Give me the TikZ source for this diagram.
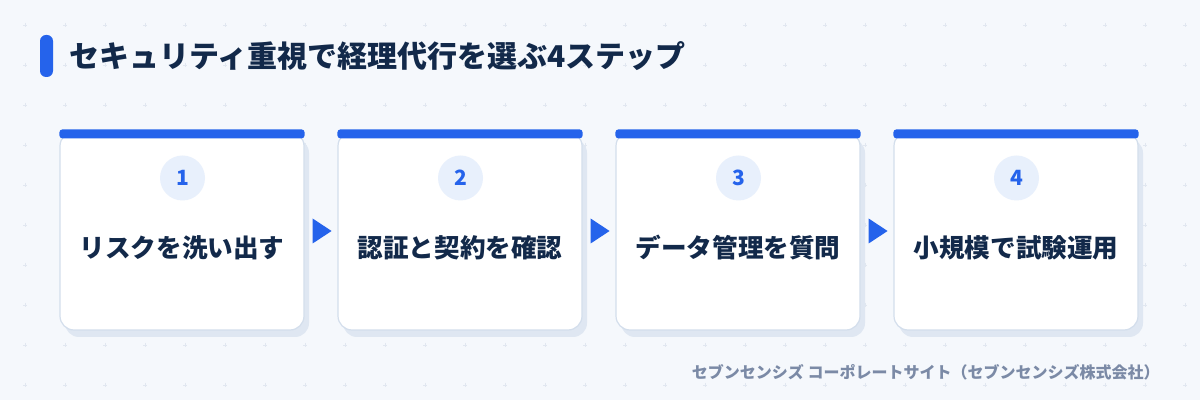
\documentclass[tikz,border=0pt]{standalone}
\usepackage{fontspec}
\setmainfont{Noto Sans CJK JP}
\usepackage{xcolor}
\usetikzlibrary{positioning,shadows}
\definecolor{bgc}{HTML}{F5F8FC}
\definecolor{dotc}{HTML}{E1E7F0}
\definecolor{accent}{HTML}{2563EB}
\definecolor{navy}{HTML}{12294A}
\definecolor{edgec}{HTML}{D3DEEC}
\definecolor{shadec}{HTML}{DFE7F2}
\definecolor{numbg}{HTML}{E8F0FC}
\definecolor{footc}{HTML}{7B8AA6}

\begin{document}
\begin{tikzpicture}[x=0.5pt, y=-0.5pt, font=\bfseries,
  card/.style={draw=edgec, line width=0.6pt, fill=white, rounded corners=7pt, minimum width=122pt, minimum height=99pt, inner sep=0pt,
    drop shadow={shadow xshift=2.5pt, shadow yshift=-3.5pt, fill=shadec, opacity=1}},
  topbar/.style={fill=accent, rounded corners=1.5pt},
  num/.style={circle, fill=numbg, minimum size=22.5pt, inner sep=0pt, text=accent, font=\bfseries\fontsize{10.5}{12}\selectfont},
  lab/.style={text=navy, font=\bfseries\fontsize{12.8}{15}\selectfont},
  tip/.style={fill=accent}]
	\fill[bgc] (0,0) rectangle (1200,400);
	\useasboundingbox (0,0) rectangle (1200,400);
	% background dots
	\foreach \gx in {0,...,29}
		\foreach \gy in {0,...,9}
			\draw[dotc, line width=0.45pt] (25+40*\gx-2,25+40*\gy) -- ++(4,0) (25+40*\gx,25+40*\gy-2) -- ++(0,4);
	% title
	\fill[accent, rounded corners=3pt] (40,35) rectangle (53,77);
	\node[anchor=west, text=navy, font=\bfseries\fontsize{15}{17}\selectfont, inner sep=0pt] (title) at (69,56) {セキュリティ重視で経理代行を選ぶ4ステップ};
	% steps
	\foreach \i/\txt in {1/リスクを洗い出す, 2/認証と契約を確認, 3/データ管理を質問, 4/小規模で試験運用} {
		\node[card] (card\i) at (182+278*\i-278,231) {};
		\fill[topbar] ([yshift=1pt]card\i.north west) rectangle ([yshift=-3.5pt]card\i.north east);
		\node[num] (num\i) at (182.5+278*\i-278,178) {\i};
		\node[lab] (lab\i) at (182+278*\i-278,248) {\txt};
	}
	\foreach \i in {1,2,3}
		\fill[tip] ([xshift=4pt,yshift=6.25pt]card\i.east) -- ([xshift=13.5pt]card\i.east) -- ([xshift=4pt,yshift=-6.25pt]card\i.east) -- cycle;
	% footer
	\node[anchor=east, text=footc, font=\bfseries\fontsize{8}{9}\selectfont, inner sep=0pt] (foot) at (1160,372) {セブンセンシズ コーポレートサイト（セブンセンシズ株式会社）};
\end{tikzpicture}
\end{document}
